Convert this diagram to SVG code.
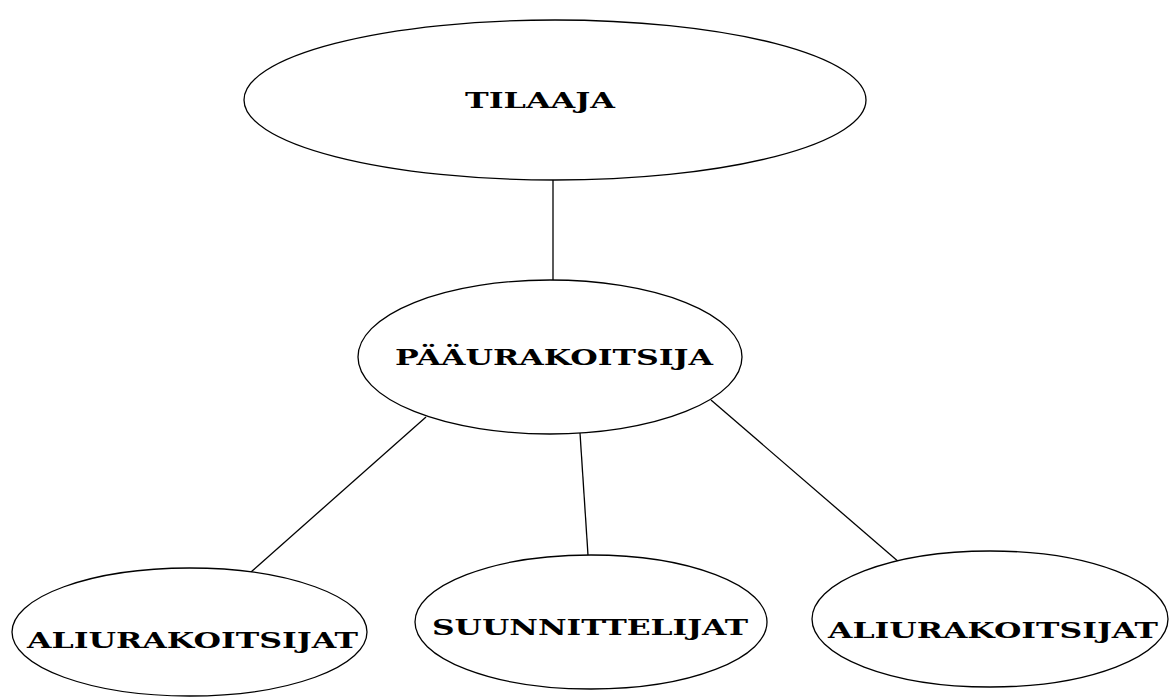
<svg xmlns="http://www.w3.org/2000/svg" width="1174" height="697" viewBox="0 0 1174 697">
<style>
.n{fill:#fff;stroke:#000;stroke-width:1.3}
.c line{stroke:#000;stroke-width:1.3}
.t{font-family:"DejaVu Serif","Liberation Serif",serif;font-weight:bold;font-size:23px;fill:#000}
</style>
<rect width="1174" height="697" fill="#fff"/>
<g class="c" id="connectors">
<line x1="553" y1="180" x2="553" y2="281"/>
<line x1="426" y1="417" x2="251" y2="572"/>
<line x1="580" y1="433" x2="588" y2="555"/>
<line x1="711" y1="400" x2="900" y2="563"/>
</g>
<g id="tilaaja">
<ellipse class="n" cx="555" cy="100" rx="311" ry="80"/>
<text class="t" x="465" y="108" textLength="150" lengthAdjust="spacingAndGlyphs">TILAAJA</text>
</g>
<g id="paaurakoitsija">
<ellipse class="n" cx="550" cy="357" rx="192" ry="77"/>
<text class="t" x="395" y="365" textLength="318" lengthAdjust="spacingAndGlyphs">PÄÄURAKOITSIJA</text>
</g>
<g id="aliurakoitsijat1">
<ellipse class="n" cx="189.5" cy="632" rx="177.5" ry="64"/>
<text class="t" x="27" y="648" textLength="331" lengthAdjust="spacingAndGlyphs">ALIURAKOITSIJAT</text>
</g>
<g id="suunnittelijat">
<ellipse class="n" cx="591" cy="622" rx="176" ry="67"/>
<text class="t" x="432" y="635" textLength="316" lengthAdjust="spacingAndGlyphs">SUUNNITTELIJAT</text>
</g>
<g id="aliurakoitsijat2">
<ellipse class="n" cx="990" cy="619" rx="178" ry="68"/>
<text class="t" x="828" y="638" textLength="330" lengthAdjust="spacingAndGlyphs">ALIURAKOITSIJAT</text>
</g>
</svg>
